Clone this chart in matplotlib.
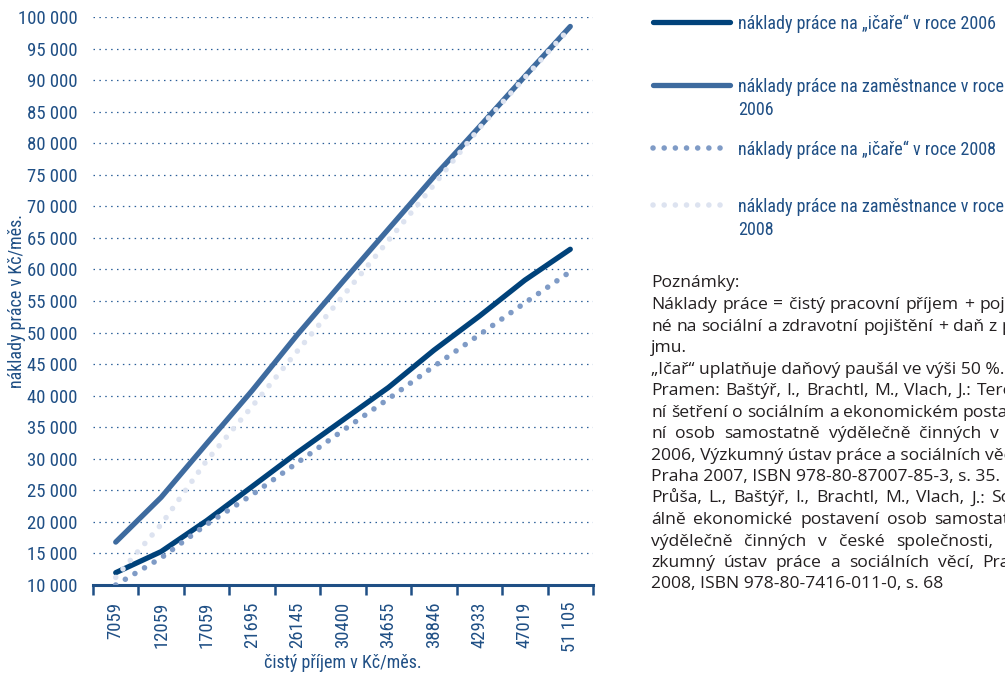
import numpy as np
import matplotlib
matplotlib.use("Agg")
import matplotlib.pyplot as plt
from matplotlib import font_manager
from matplotlib.lines import Line2D
from matplotlib.ticker import FuncFormatter

# ---- data -------------------------------------------------------------
income_labels = ["7059", "12059", "17059", "21695", "26145", "30400",
                 "34655", "38846", "42933", "47019", "51 105"]

icar_2006 = [11950, 15300, 20200, 25600, 31000, 36150, 41300, 47200, 52600, 58300, 63200]
zam_2006 = [16800, 23900, 32400, 40800, 49700, 58100, 66400, 74700, 82600, 90600, 98500]
icar_2008 = [10000, 14300, 19600, 24300, 29400, 34500, 39500, 44650, 49650, 54700, 59650]
zam_2008 = [11200, 19600, 29700, 38300, 47100, 55800, 64600, 73400, 82400, 90400, 98300]

series_labels = [
    "náklady práce na \u201eičaře\u201c v roce 2006",
    "náklady práce na zaměstnance v roce\n2006",
    "náklady práce na \u201eičaře\u201c v roce 2008",
    "náklady práce na zaměstnance v roce\n2008",
]

y_ticks = list(range(10000, 100001, 5000))

x_title = "čistý příjem v Kč/měs."
y_title = "náklady práce v Kč/měs."

notes_title = "Poznámky:"
notes_lines = [
    ("Náklady práce = čistý pracovní příjem + pojist-", True),
    ("né na sociální a zdravotní pojištění + daň z pří-", True),
    ("jmu.", False),
    ("\u201eIčař\u201c uplatňuje daňový paušál ve výši 50 %.", False),
    ("Pramen: Baštýř, I., Brachtl, M., Vlach, J.: Terén-", True),
    ("ní šetření o sociálním a ekonomickém postave-", True),
    ("ní osob samostatně výdělečně činných v ČR", True),
    ("2006, Výzkumný ústav práce a sociálních věcí,", False),
    ("Praha 2007, ISBN 978-80-87007-85-3, s. 35.", False),
    ("Průša, L., Baštýř, I., Brachtl, M., Vlach, J.: Soci-", True),
    ("álně ekonomické postavení osob samostatně", True),
    ("výdělečně činných v české společnosti, Vý-", True),
    ("zkumný ústav práce a sociálních věcí, Praha", True),
    ("2008, ISBN 978-80-7416-011-0, s. 68", False),
]

# ---- style ------------------------------------------------------------
available = {f.name for f in font_manager.fontManager.ttflist}
narrow = next((f for f in ["Liberation Sans Narrow", "Roboto Condensed"] if f in available),
              "DejaVu Sans")
body_font = "Open Sans" if "Open Sans" in available else "DejaVu Sans"

text_blue = "#1f4f85"
axis_blue = "#1f4f85"
grid_blue = "#2a5e98"
c_icar06 = "#00427a"
c_zam06 = "#3e6b9f"
c_icar08 = "#7f9bc6"
c_zam08 = "#dde3f0"

W, H = 1005, 680
fig = plt.figure(figsize=(W / 100, H / 100), dpi=100)
fig.patch.set_facecolor("white")


def fx(px):
    return px / W


def fy(py):
    return 1 - py / H


ax = fig.add_axes([fx(93), fy(585), 500 / W, 568 / H])
x = np.arange(len(income_labels))

solid_kw = dict(lw=3.8, solid_capstyle="round", solid_joinstyle="round")
dot_kw = dict(lw=4.0, linestyle=(0, (0.01, 2.0)), dash_capstyle="round")

ax.plot(x, icar_2006, color=c_icar06, zorder=3, **solid_kw)
ax.plot(x, zam_2006, color=c_zam06, zorder=3, **solid_kw)
ax.plot(x, icar_2008, color=c_icar08, zorder=4, **dot_kw)
ax.plot(x, zam_2008, color=c_zam08, zorder=4, **dot_kw)

ax.set_xlim(-0.5, len(income_labels) - 0.5)
ax.set_ylim(y_ticks[0], y_ticks[-1])

# category boundaries carry the tick marks, centres carry the labels
ax.set_xticks(np.arange(-0.5, len(income_labels), 1.0))
ax.set_xticklabels([])
ax.set_xticks(x, minor=True)
ax.set_xticklabels(income_labels, minor=True)
ax.tick_params(axis="x", which="major", direction="out", length=7, width=1.8,
               color=axis_blue)
ax.tick_params(axis="x", which="minor", length=0, pad=12)
for lab in ax.get_xticklabels(minor=True):
    lab.set_rotation(90)
    lab.set_fontfamily(narrow)
    lab.set_fontstretch("condensed")
    lab.set_fontsize(13.5)
    lab.set_color(text_blue)

ax.set_yticks(y_ticks)
ax.yaxis.set_major_formatter(FuncFormatter(lambda v, _: f"{int(v) // 1000} 000"))
ax.tick_params(axis="y", length=0, pad=11)
for lab in ax.get_yticklabels():
    lab.set_fontfamily(narrow)
    lab.set_fontstretch("condensed")
    lab.set_fontsize(13.5)
    lab.set_color(text_blue)

ax.yaxis.grid(True, linestyle=(0, (1.2, 3.5)), lw=0.9, color=grid_blue)
ax.set_axisbelow(True)
for side in ("left", "right", "top"):
    ax.spines[side].set_visible(False)
ax.spines["bottom"].set_color(axis_blue)
ax.spines["bottom"].set_linewidth(2.2)

label_kw = dict(family=narrow, fontstretch="condensed", fontsize=13, color=text_blue)
fig.text(fx(17), fy(301), y_title, rotation=90, ha="center", va="center", **label_kw)
fig.text(fx(343), fy(663), x_title, ha="center", va="center", **label_kw)

# ---- legend -------------------------------------------------------------
legend_rows = [22, 85, 148, 205]
legend_styles = [(c_icar06, solid_kw), (c_zam06, solid_kw),
                 (c_icar08, dot_kw), (c_zam08, dot_kw)]
for label, row_y, (col, kw) in zip(series_labels, legend_rows, legend_styles):
    fig.add_artist(Line2D([fx(653), fx(730)], [fy(row_y), fy(row_y)],
                          transform=fig.transFigure, color=col, **kw))
    for k, part in enumerate(label.split("\n")):
        fig.text(fx(738), fy(row_y + 23 * k), part, ha="left", va="center_baseline",
                 family=narrow, fontstretch="condensed", fontsize=13, color=text_blue)

# ---- notes ------------------------------------------------------------
note_kw = dict(family=body_font, fontsize=12.6, color="#231f20")
fig.canvas.draw()
renderer = fig.canvas.get_renderer()


def width_px(s):
    t = fig.text(0, 0, s, **note_kw)
    w = t.get_window_extent(renderer).width
    t.remove()
    return w


x0 = 651
right_edge = 1030
space_w = width_px("a a") - width_px("aa")
fig.text(fx(x0), fy(287), notes_title, ha="left", va="baseline", **note_kw)
base_y = 309
line_step = 21.5
for i, (line, justify) in enumerate(notes_lines):
    py = base_y + i * line_step
    words = line.split(" ")
    if not justify or len(words) < 2:
        fig.text(fx(x0), fy(py), line, ha="left", va="baseline", **note_kw)
        continue
    widths = [width_px(w) for w in words]
    gap = max(space_w, (right_edge - x0 - sum(widths)) / (len(words) - 1))
    pos = x0
    for w, wd in zip(words, widths):
        fig.text(fx(pos), fy(py), w, ha="left", va="baseline", **note_kw)
        pos += wd + gap

fig.savefig("out.png", dpi=100, facecolor="white")
